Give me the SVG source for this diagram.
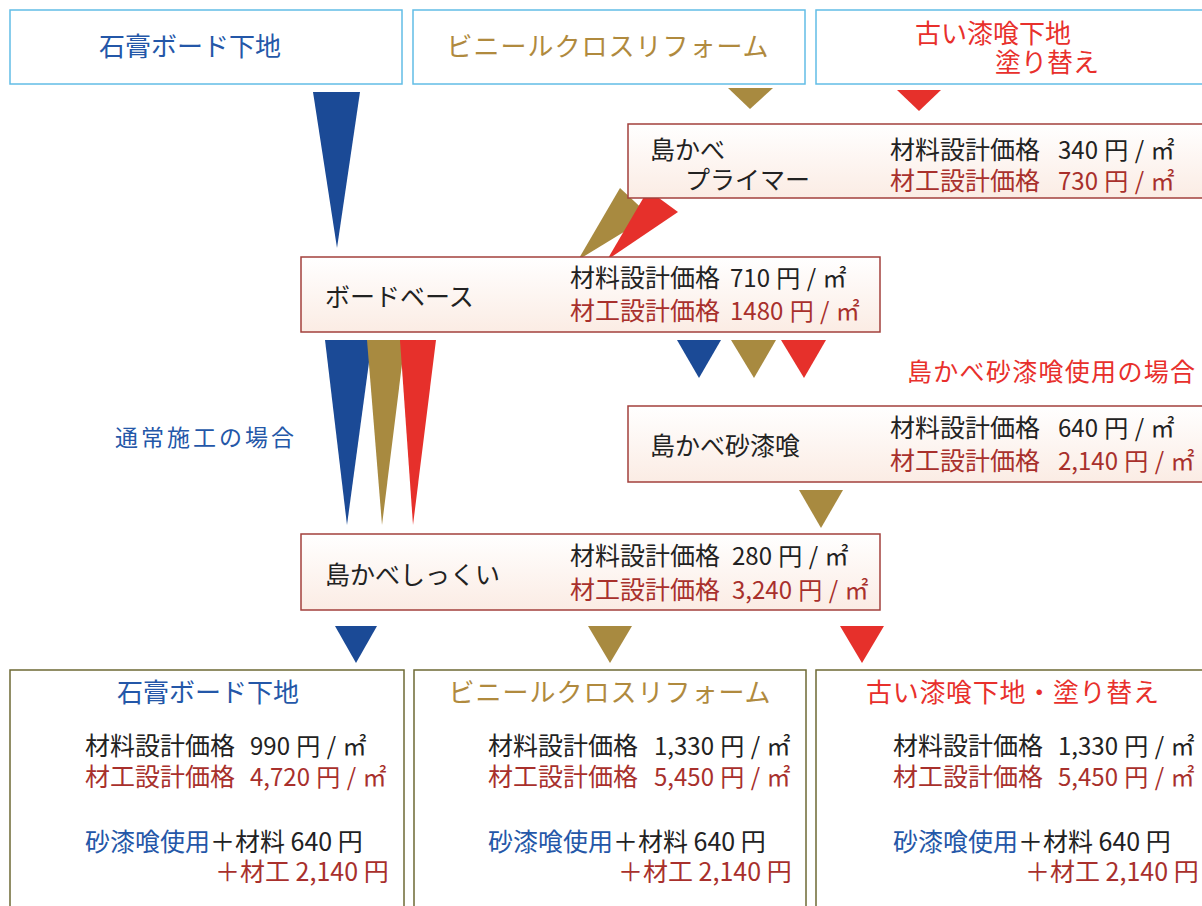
<svg xmlns="http://www.w3.org/2000/svg" width="1202" height="906" viewBox="0 0 1202 906">
<defs>
<linearGradient id="pink" x1="0" y1="0" x2="0" y2="1">
<stop offset="0" stop-color="#ffffff"/>
<stop offset="1" stop-color="#fbece4"/>
</linearGradient>
<style>
text{font-family:"Noto Sans CJK JP","Noto Sans",sans-serif;}
.src{fill:#fff;stroke:#62bde6;stroke-width:1.5;}
.node{fill:url(#pink);stroke:#a3403c;stroke-width:1.5;}
.res{fill:#fff;stroke:#6e6a34;stroke-width:1.5;}
.big{font-size:26px;}
.t{font-size:25px;fill:#222;}
.p{font-size:25px;fill:#222;}
.p2{font-size:25px;fill:#a8302c;}
.n{font-size:24px;word-spacing:1px;}
.blue{fill:#2457a8;}
.gold{fill:#b08a3e;}
.red{fill:#e8302c;}
.tb{fill:#1b4a96;}
.tg{fill:#a88a40;}
.tr{fill:#e6302b;}
</style>
</defs>
<rect width="1202" height="906" fill="#fff"/>
<g id="connectors">
<polygon class="tb" points="313,92 360,92 337,248"/>
<polygon class="tg" points="728,88 773,88 750,109"/>
<polygon class="tr" points="897,90 941,90 919,111"/>
<polygon class="tg" points="620,188 650,216 578,260"/>
<polygon class="tr" points="648,190 678,212 607,260"/>
<polygon class="tb" points="325,340 372,340 347,525"/>
<polygon class="tg" points="367,340 405,340 382,525"/>
<polygon class="tr" points="400,340 436,340 413,525"/>
<polygon class="tb" points="677,340 721,340 699,378"/>
<polygon class="tg" points="731,340 776,340 754,378"/>
<polygon class="tr" points="781,340 826,340 804,378"/>
<polygon class="tg" points="799,490 843,490 821,528"/>
<polygon class="tb" points="335,626 377,626 356,663"/>
<polygon class="tg" points="588,626 632,626 610,663"/>
<polygon class="tr" points="840,626 884,626 862,663"/>
</g>
<g id="src-gypsum">
<rect class="src" x="10" y="10" width="392" height="74"/>
<text class="big blue" x="190" y="56" text-anchor="middle">石膏ボード下地</text>
</g>
<g id="src-vinyl">
<rect class="src" x="413" y="10" width="392" height="74"/>
<text class="big gold" x="608" y="56" text-anchor="middle" letter-spacing="1">ビニールクロスリフォーム</text>
</g>
<g id="src-old">
<rect class="src" x="816" y="10" width="400" height="74"/>
<text class="big red" x="915" y="43">古い漆喰下地</text>
<text class="big red" x="995" y="72">塗り替え</text>
</g>
<g id="node-primer">
<rect class="node" x="628" y="124" width="600" height="74"/>
<text class="t" x="650" y="159">島かべ</text>
<text class="t" x="685" y="189">プライマー</text>
<text class="p" x="890" y="159">材料設計価格</text>
<text class="p n" x="1058" y="159">340 円 / ㎡</text>
<text class="p2" x="890" y="190">材工設計価格</text>
<text class="p2 n" x="1058" y="190">730 円 / ㎡</text>
</g>
<g id="node-boardbase">
<rect class="node" x="301" y="257" width="579" height="75"/>
<text class="t" x="325" y="306">ボードベース</text>
<text class="p" x="570" y="287">材料設計価格</text>
<text class="p n" x="730" y="287">710 円 / ㎡</text>
<text class="p2" x="570" y="320">材工設計価格</text>
<text class="p2 n" x="730" y="320">1480 円 / ㎡</text>
</g>
<g id="label-normal">
<text class="blue" x="115" y="446" font-size="23" letter-spacing="3">通常施工の場合</text>
</g>
<g id="label-sand">
<text class="red" x="907" y="381" font-size="25" letter-spacing="1.3">島かべ砂漆喰使用の場合</text>
</g>
<g id="node-sand">
<rect class="node" x="628" y="406" width="600" height="76"/>
<text class="t" x="650" y="455">島かべ砂漆喰</text>
<text class="p" x="890" y="437">材料設計価格</text>
<text class="p n" x="1058" y="437">640 円 / ㎡</text>
<text class="p2" x="890" y="470">材工設計価格</text>
<text class="p2 n" x="1058" y="470">2,140 円 / ㎡</text>
</g>
<g id="node-shikkui">
<rect class="node" x="301" y="534" width="579" height="76"/>
<text class="t" x="325" y="584">島かべしっくい</text>
<text class="p" x="570" y="565">材料設計価格</text>
<text class="p n" x="732" y="565">280 円 / ㎡</text>
<text class="p2" x="570" y="599">材工設計価格</text>
<text class="p2 n" x="732" y="599">3,240 円 / ㎡</text>
</g>
<g id="res-gypsum">
<rect class="res" x="10" y="670" width="394" height="250"/>
<text class="big blue" x="208" y="702" text-anchor="middle">石膏ボード下地</text>
<text class="p" x="85" y="755">材料設計価格</text>
<text class="p n" x="250" y="755">990 円 / ㎡</text>
<text class="p2" x="85" y="786">材工設計価格</text>
<text class="p2 n" x="250" y="786">4,720 円 / ㎡</text>
<text class="p" x="85" y="851"><tspan class="blue">砂漆喰使用</tspan>＋材料 640 円</text>
<text class="p2" x="215" y="881" font-size="24">＋材工 2,140 円</text>
</g>
<g id="res-vinyl">
<rect class="res" x="414" y="670" width="392" height="250"/>
<text class="big gold" x="610" y="702" text-anchor="middle" letter-spacing="1">ビニールクロスリフォーム</text>
<text class="p" x="488" y="755">材料設計価格</text>
<text class="p n" x="654" y="755">1,330 円 / ㎡</text>
<text class="p2" x="488" y="786">材工設計価格</text>
<text class="p2 n" x="654" y="786">5,450 円 / ㎡</text>
<text class="p" x="488" y="851"><tspan class="blue">砂漆喰使用</tspan>＋材料 640 円</text>
<text class="p2" x="618" y="881" font-size="24">＋材工 2,140 円</text>
</g>
<g id="res-old">
<rect class="res" x="816" y="670" width="400" height="250"/>
<text class="big red" x="866" y="702" letter-spacing="0.7">古い漆喰下地・塗り替え</text>
<text class="p" x="893" y="755">材料設計価格</text>
<text class="p n" x="1058" y="755">1,330 円 / ㎡</text>
<text class="p2" x="893" y="786">材工設計価格</text>
<text class="p2 n" x="1058" y="786">5,450 円 / ㎡</text>
<text class="p" x="893" y="851"><tspan class="blue">砂漆喰使用</tspan>＋材料 640 円</text>
<text class="p2" x="1025" y="881" font-size="24">＋材工 2,140 円</text>
</g>
</svg>
